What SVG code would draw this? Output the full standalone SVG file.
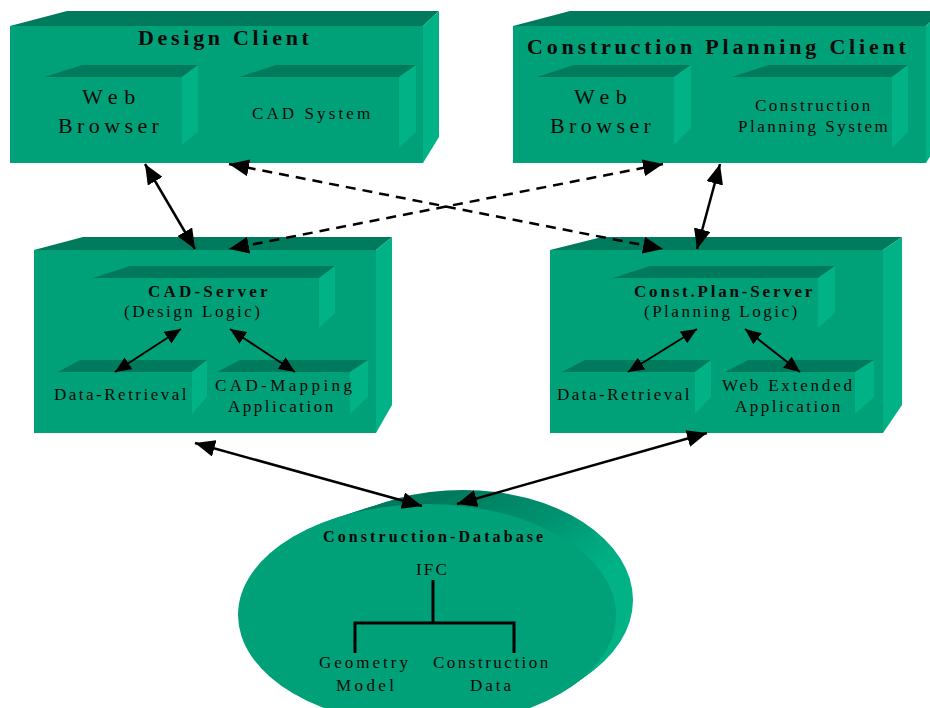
<svg xmlns="http://www.w3.org/2000/svg" width="930" height="708" viewBox="0 0 930 708">
<defs>
<style>
.front{fill:#00A078}
.top{fill:#007A5C}
.side{fill:#00B286}
text{font-family:"Liberation Serif","Times New Roman",serif;fill:#0a0a0a}
.b{font-weight:bold}
.s17{font-size:17px;letter-spacing:2.5px}
.s22{font-size:22px}
.ln{stroke:#000;stroke-width:2.5;fill:none}
.dash{stroke-dasharray:10 7}
.thin{stroke:#000;stroke-width:2;fill:none}
.tree{stroke:#000;stroke-width:3;fill:none}
</style>
<marker id="ah" viewBox="0 0 20 17" refX="20" refY="8.5" markerWidth="20" markerHeight="17" markerUnits="userSpaceOnUse" orient="auto-start-reverse">
<path d="M0,0 L20,8.5 L0,17 z" fill="#000"/>
</marker>
<marker id="ahs" viewBox="0 0 16 14" refX="16" refY="7" markerWidth="16" markerHeight="14" markerUnits="userSpaceOnUse" orient="auto-start-reverse">
<path d="M0,0 L16,7 L0,14 z" fill="#000"/>
</marker>
<linearGradient id="dbg" x1="0" y1="0" x2="1" y2="0.3">
<stop offset="0.45" stop-color="#007A5C"/>
<stop offset="0.75" stop-color="#009270"/>
<stop offset="0.97" stop-color="#00B286"/>
</linearGradient>
</defs>

<g id="design-client">
<rect class="front" x="10" y="26" width="413" height="137"/>
<polygon class="top" points="10,26 67,11 439,11 423,26"/>
<polygon class="side" points="423,26 439,11 439,137 423,163"/>
<text class="b s22" x="138" y="45" style="letter-spacing:3.7px">Design Client</text>
<g id="dc-web-browser">
<polygon class="top" points="45,77 82,65 198,65 182,77"/>
<polygon class="side" points="182,77 198,65 198,132 182,145"/>
<text class="s22" x="82" y="104" style="letter-spacing:6.7px">Web</text>
<text class="s22" x="58" y="133" style="letter-spacing:4.4px">Browser</text>
</g>
<g id="dc-cad-system">
<polygon class="top" points="239,77 276,65 416,65 399,77"/>
<polygon class="side" points="399,77 416,65 416,132 399,148"/>
<text class="s17" x="252" y="119" style="letter-spacing:3.1px">CAD System</text>
</g>
</g>

<g id="construction-planning-client">
<rect class="front" x="513" y="26" width="413" height="137"/>
<polygon class="top" points="513,26 570,11 942,11 926,26"/>
<polygon class="side" points="926,26 942,11 942,137 926,163"/>
<text class="b s22" x="527" y="54" style="letter-spacing:3.8px">Construction Planning Client</text>
<g id="cpc-web-browser">
<polygon class="top" points="537,77 574,65 691,65 674,77"/>
<polygon class="side" points="674,77 691,65 691,128 674,145"/>
<text class="s22" x="574" y="104" style="letter-spacing:6.5px">Web</text>
<text class="s22" x="550" y="133" style="letter-spacing:4.4px">Browser</text>
</g>
<g id="cpc-planning-system">
<polygon class="top" points="732,77 769,65 908,65 892,77"/>
<polygon class="side" points="892,77 908,65 908,132 892,148"/>
<text class="s17" x="755" y="111">Construction</text>
<text class="s17" x="738" y="132">Planning System</text>
</g>
</g>

<g id="cad-server-node">
<rect class="front" x="34" y="250" width="342" height="183"/>
<polygon class="top" points="34,250 83,237 392,237 376,250"/>
<polygon class="side" points="376,250 392,237 392,405 376,433"/>
<g id="cad-server">
<polygon class="top" points="93,278 130,266 335,266 319,278"/>
<polygon class="side" points="319,278 335,266 335,313 319,328"/>
<text class="b s17" x="148" y="297" style="letter-spacing:3.2px">CAD-Server</text>
<text class="s17" x="124" y="317">(Design Logic)</text>
</g>
<g id="cad-data-retrieval">
<polygon class="top" points="58,372 80,360 207,360 192,372"/>
<polygon class="side" points="192,372 207,360 207,397 192,414"/>
<text class="s17" x="54" y="400">Data-Retrieval</text>
</g>
<g id="cad-mapping">
<polygon class="top" points="217,372 240,360 368,360 350,372"/>
<polygon class="side" points="350,372 368,360 368,397 350,414"/>
<text class="s17" x="215" y="391" style="letter-spacing:3.4px">CAD-Mapping</text>
<text class="s17" x="228" y="412">Application</text>
</g>
</g>

<g id="const-plan-server-node">
<rect class="front" x="550" y="250" width="333" height="183"/>
<polygon class="top" points="550,250 602,237 902,237 883,250"/>
<polygon class="side" points="883,250 902,237 902,405 883,433"/>
<g id="const-plan-server">
<polygon class="top" points="613,278 650,266 835,266 818,278"/>
<polygon class="side" points="818,278 835,266 835,313 818,328"/>
<text class="b s17" x="634" y="297" style="letter-spacing:2.8px">Const.Plan-Server</text>
<text class="s17" x="644" y="317">(Planning Logic)</text>
</g>
<g id="cps-data-retrieval">
<polygon class="top" points="562,372 585,360 711,360 695,372"/>
<polygon class="side" points="695,372 711,360 711,397 695,414"/>
<text class="s17" x="557" y="400">Data-Retrieval</text>
</g>
<g id="web-extended">
<polygon class="top" points="725,372 748,360 874,360 855,372"/>
<polygon class="side" points="855,372 874,360 874,397 855,414"/>
<text class="s17" x="722" y="391" style="letter-spacing:2.8px">Web Extended</text>
<text class="s17" x="735" y="412">Application</text>
</g>
</g>

<g id="construction-database">
<ellipse cx="463" cy="600" rx="170" ry="110" fill="url(#dbg)"/>
<ellipse cx="455.8" cy="603" rx="173.8" ry="110.2" fill="url(#dbg)"/>
<ellipse cx="448.6" cy="606" rx="177.6" ry="110.4" fill="url(#dbg)"/>
<ellipse cx="441.4" cy="609" rx="181.4" ry="110.6" fill="url(#dbg)"/>
<ellipse cx="434.2" cy="612" rx="185.2" ry="110.8" fill="url(#dbg)"/>
<ellipse class="front" cx="427" cy="615" rx="189" ry="111"/>
<text class="b" x="323" y="542" style="font-size:16px;letter-spacing:3.1px">Construction-Database</text>
<text class="s17" x="416" y="575" style="letter-spacing:2.2px">IFC</text>
<path class="tree" d="M433,580 V623 M355,653 V623 H514 V653"/>
<text class="s17" x="319" y="668" style="letter-spacing:3px">Geometry</text>
<text class="s17" x="336" y="691" style="letter-spacing:3.4px">Model</text>
<text class="s17" x="433" y="668">Construction</text>
<text class="s17" x="470" y="691" style="letter-spacing:3px">Data</text>
</g>

<g id="connectors">
<line class="ln" x1="145" y1="164" x2="195" y2="249" marker-start="url(#ah)" marker-end="url(#ah)"/>
<line class="ln dash" x1="229" y1="164" x2="663" y2="249" marker-start="url(#ah)" marker-end="url(#ah)"/>
<line class="ln dash" x1="663" y1="164" x2="229" y2="249" marker-start="url(#ah)" marker-end="url(#ah)"/>
<line class="ln" x1="720" y1="164" x2="697" y2="249" marker-start="url(#ah)" marker-end="url(#ah)"/>
<line class="ln" x1="195" y1="443" x2="422" y2="506" marker-start="url(#ah)" marker-end="url(#ah)"/>
<line class="ln" x1="707" y1="433" x2="457" y2="504" marker-start="url(#ah)" marker-end="url(#ah)"/>
<line class="thin" x1="181" y1="329" x2="115" y2="372" marker-start="url(#ahs)" marker-end="url(#ahs)"/>
<line class="thin" x1="230" y1="329" x2="295" y2="372" marker-start="url(#ahs)" marker-end="url(#ahs)"/>
<line class="thin" x1="697" y1="329" x2="628" y2="372" marker-start="url(#ahs)" marker-end="url(#ahs)"/>
<line class="thin" x1="745" y1="329" x2="800" y2="372" marker-start="url(#ahs)" marker-end="url(#ahs)"/>
</g>
</svg>
